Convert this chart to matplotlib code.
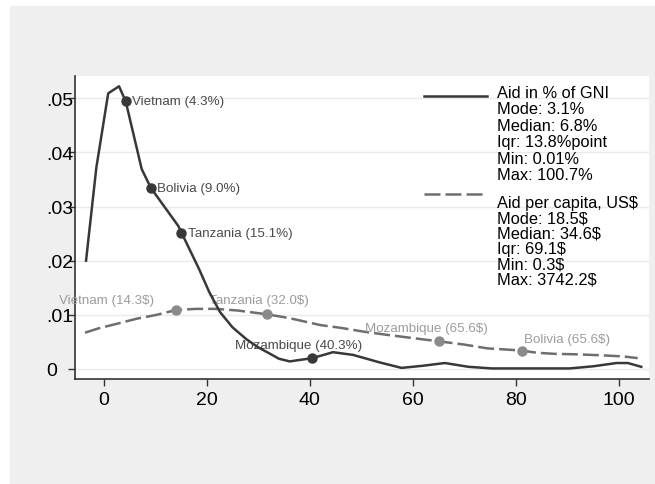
import numpy as np
import matplotlib
matplotlib.use("Agg")
import matplotlib.pyplot as plt
from matplotlib.patches import Rectangle

plt.rcParams['font.family'] = ['Liberation Sans', 'DejaVu Sans']

# --- density of aid in % of GNI (solid) ---
gni_x = [-3.4, -1.4, 0.9, 3.0, 4.3, 7.4, 9.2, 14.5, 15.1, 18.5, 20.5, 22.6, 25.0,
         27.7, 30.0, 32.3, 34.0, 36.1, 40.5, 44.5, 48.4, 53.6, 57.8, 62.0, 66.2,
         70.8, 75.3, 80.0, 85.0, 90.4, 95.0, 99.5, 101.7, 104.3]
gni_y = [.0200, .0372, .0509, .0522, .0494, .0369, .0334, .0264, .0252, .0185, .0142,
         .0105, .0077, .0055, .0040, .0028, .0019, .0014, .0020, .0031, .0026, .0012,
         .0002, .0006, .0011, .0004, .0001, .0001, .0001, .0001, .0005, .0011, .0011,
         .0004]

# --- density of aid per capita, US$ (dashed) ---
pc_x = [-3.6, -1.0, 2.8, 6.5, 10.3, 14.1, 18.0, 21.7, 26.0, 31.7, 36.0, 42.1, 46.0,
        50.4, 55.0, 60.0, 65.1, 70.0, 74.5, 78.0, 81.1, 84.0, 87.4, 92.0, 97.2, 101.0,
        103.6]
pc_y = [.0067, .0075, .0084, .0093, .0100, .0109, .0111, .0111, .0108, .0101, .0094,
        .0081, .0076, .0069, .0063, .0057, .0051, .0045, .0038, .0036, .0034, .0030,
        .0028, .0027, .0025, .0023, .0020]

# country markers
gni_labels = ["Vietnam (4.3%)", "Bolivia (9.0%)", "Tanzania (15.1%)", "Mozambique (40.3%)"]
gni_mx = [4.3, 9.2, 15.1, 40.5]
gni_my = [.0494, .0334, .0252, .0020]

pc_labels = ["Vietnam (14.3$)", "Tanzania (32.0$)", "Mozambique (65.6$)", "Bolivia (65.6$)"]
pc_mx = [14.1, 31.7, 65.1, 81.1]
pc_my = [.0109, .0101, .0051, .0034]

legend_gni = ["Aid in % of GNI", "Mode: 3.1%", "Median: 6.8%", "Iqr: 13.8%point",
              "Min: 0.01%", "Max: 100.7%"]
legend_pc = ["Aid per capita, US$", "Mode: 18.5$", "Median: 34.6$", "Iqr: 69.1$",
             "Min: 0.3$", "Max: 3742.2$"]

yticks = [0, .01, .02, .03, .04, .05]
ytick_labels = ["0", ".01", ".02", ".03", ".04", ".05"]
xticks = [0, 20, 40, 60, 80, 100]

SOLID = '#383838'
DASH = '#6e6e6e'

fig = plt.figure(figsize=(6.55, 4.85), dpi=100)
fig.patch.set_facecolor('white')
fig.patches.append(Rectangle((10 / 655, 0), 1 - 10 / 655, 1 - 7 / 485,
                             transform=fig.transFigure, color='#efefef', zorder=-10))
ax = fig.add_axes([74.7 / 655, 105 / 485, 574.3 / 655, 303 / 485])
ax.set_facecolor('white')

ax.plot(pc_x, pc_y, color=DASH, lw=1.8, dashes=(6.4, 2.0), zorder=3)
ax.plot(gni_x, gni_y, color=SOLID, lw=1.8, zorder=4)
ax.plot(pc_mx, pc_my, 'o', color='#8a8a8a', ms=6.5, zorder=5)
ax.plot(gni_mx, gni_my, 'o', color=SOLID, ms=6.5, zorder=6)

# labels for solid series: to the right of the marker
for lab, x, y in zip(gni_labels[:3], gni_mx[:3], gni_my[:3]):
    ax.annotate(lab, (x, y), xytext=(4.5, 0), textcoords='offset points',
                ha='left', va='center', fontsize=9.6, color='#4a4a4a')
ax.annotate(gni_labels[3], (gni_mx[3], gni_my[3]), xytext=(-10, 9.5),
            textcoords='offset points', ha='center', va='center',
            fontsize=9.6, color='#4a4a4a')

pc_offsets = [(-16, 7.5, 'right'), (-6, 10, 'center'), (-9, 9.5, 'center'), (2, 8, 'left')]
for lab, x, y, (dx, dy, ha) in zip(pc_labels, pc_mx, pc_my, pc_offsets):
    ax.annotate(lab, (x, y), xytext=(dx, dy), textcoords='offset points',
                ha=ha, va='center', fontsize=9.6, color='#9c9c9c')

ax.set_xlim(-5.6, 105.8)
ax.set_ylim(-0.00185, 0.0541)
ax.set_xticks(xticks)
ax.set_yticks(yticks)
ax.set_yticklabels(ytick_labels, ha='left')
ax.tick_params(axis='both', labelsize=14, length=4.8, width=1.0, color='#333333',
               direction='out')
ax.tick_params(axis='y', pad=15.8)
ax.tick_params(axis='x', pad=3.5)
ax.grid(True, axis='y', color='#eaeaea', lw=1.0)
ax.set_axisbelow(True)
for side in ['top', 'right']:
    ax.spines[side].set_visible(False)
for side in ['left', 'bottom']:
    ax.spines[side].set_color('#333333')
    ax.spines[side].set_linewidth(1.2)

# legend drawn by hand: key line sits at the first line of each block
def legend_block(lines, key_y, text_y0, step, **style):
    ax.plot([0.608, 0.718], [key_y, key_y], transform=ax.transAxes,
            clip_on=False, **style)
    for i, line in enumerate(lines):
        ax.text(0.735, text_y0 - i * step, line, transform=ax.transAxes,
                ha='left', va='center', fontsize=11.8, color='black')

legend_block(legend_gni, 0.935, 0.946, 0.0545, color=SOLID, lw=1.8)
legend_block(legend_pc, 0.611, 0.583, 0.0505, color=DASH, lw=1.8, dashes=(6.4, 2.0))

fig.savefig("out.png", dpi=100)
